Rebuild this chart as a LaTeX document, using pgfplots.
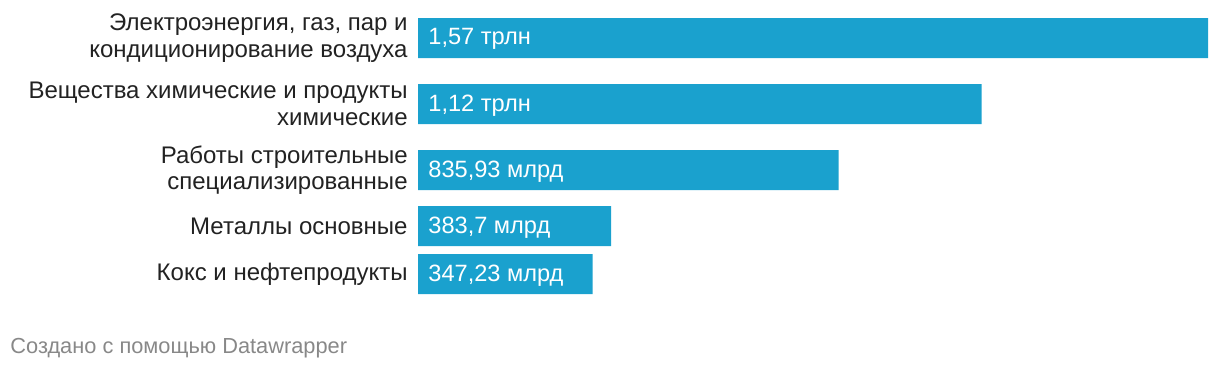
\documentclass[border=0pt]{standalone}
\usepackage{fontspec}
\setmainfont{Liberation Sans}
\usepackage{pgfplots}
\pgfplotsset{compat=1.18}
\definecolor{barblue}{RGB}{26,161,206}
\definecolor{labtxt}{RGB}{34,34,34}
\definecolor{foot}{RGB}{136,136,136}
\begin{document}
\begin{tikzpicture}
\path[use as bounding box] (0,0) rectangle (610pt,-186pt);
\begin{axis}[
  at={(209pt,-9pt)}, anchor=north west,
  scale only axis, width=395pt, height=138pt,
  xmin=0, xmax=1570, ymin=18, ymax=294, y dir=reverse,
  axis line style={draw=none}, major tick length=0pt,
  xtick=\empty,
  ytick={38,104,170,226,274},
  yticklabels={{Электроэнергия, газ, пар и\\кондиционирование воздуха},{Вещества химические и продукты\\химические},{Работы строительные\\специализированные},{Металлы основные},{Кокс и нефтепродукты}},
  yticklabel style={align=right, inner sep=0pt, xshift=-5pt, text=labtxt, font=\fontsize{12}{13.3}\selectfont},
  clip=false,
]
\addplot[xbar, bar width=20pt, fill=barblue, draw=none] coordinates {(1570,38) (1120,104) (835.93,170) (383.7,226) (347.23,274)};
\addplot[only marks, mark=none, nodes near coords, point meta=explicit symbolic,
  nodes near coords style={anchor=west, xshift=5pt, yshift=-0.6pt, inner sep=0pt, text=white, font=\fontsize{11.8}{13}\selectfont}]
  coordinates {(0,38) [1,57 трлн] (0,104) [1,12 трлн] (0,170) [835,93 млрд] (0,226) [383,7 млрд] (0,274) [347,23 млрд]};
\end{axis}
\node[anchor=base west, inner sep=0pt, text=foot, font=\fontsize{10.9}{12}\selectfont] at (5pt,-176.5pt) {Создано с помощью Datawrapper};
\end{tikzpicture}
\end{document}
